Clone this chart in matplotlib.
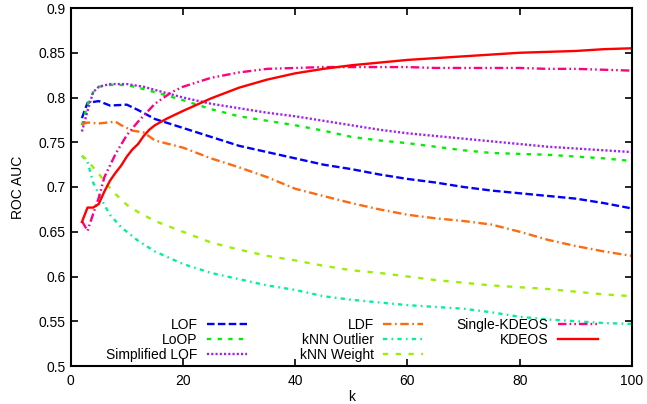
import matplotlib
matplotlib.use('Agg')
import matplotlib.pyplot as plt
from matplotlib.legend import Legend

plt.rcParams['font.family'] = ['Liberation Sans', 'DejaVu Sans']
plt.rcParams['font.size'] = 10

# values (k, ROC AUC)
k_lof = [2, 3, 5, 7, 10, 12, 15, 20, 25, 30, 35, 40, 45, 50, 55, 60, 65, 70, 75, 80, 85, 90, 95, 100]
auc_lof = [0.777, 0.794, 0.796, 0.791, 0.792, 0.786, 0.776, 0.766, 0.756, 0.746, 0.739, 0.732, 0.725,
           0.720, 0.714, 0.709, 0.705, 0.700, 0.696, 0.693, 0.690, 0.687, 0.682, 0.676]

k_loop = [2, 3, 4, 5, 7, 10, 12, 15, 20, 25, 30, 35, 40, 45, 50, 55, 60, 65, 70, 75, 80, 85, 90, 95, 100]
auc_loop = [0.769, 0.792, 0.806, 0.812, 0.814, 0.814, 0.811, 0.806, 0.797, 0.787, 0.779, 0.774, 0.769,
            0.763, 0.756, 0.752, 0.749, 0.745, 0.741, 0.738, 0.737, 0.736, 0.734, 0.732, 0.729]

k_slof = [2, 3, 4, 5, 7, 10, 13, 17, 20, 25, 30, 35, 40, 45, 50, 55, 60, 65, 70, 75, 80, 85, 90, 95, 100]
auc_slof = [0.762, 0.785, 0.806, 0.812, 0.815, 0.815, 0.812, 0.805, 0.800, 0.793, 0.788, 0.783, 0.779,
            0.774, 0.769, 0.764, 0.760, 0.757, 0.754, 0.751, 0.748, 0.745, 0.743, 0.741, 0.739]

k_ldf = [2, 3, 5, 8, 9, 11, 13, 15, 20, 25, 30, 35, 40, 45, 50, 55, 60, 65, 70, 75, 80, 85, 90, 95, 100]
auc_ldf = [0.770, 0.772, 0.771, 0.773, 0.769, 0.763, 0.761, 0.752, 0.744, 0.732, 0.722, 0.711, 0.698,
           0.690, 0.682, 0.675, 0.669, 0.665, 0.662, 0.658, 0.650, 0.641, 0.634, 0.628, 0.623]

k_knno = [2, 3, 4, 5, 6, 7, 9, 12, 15, 20, 25, 30, 35, 40, 45, 50, 55, 60, 65, 70, 75, 80, 85, 90, 95, 100]
auc_knno = [0.735, 0.728, 0.705, 0.692, 0.680, 0.669, 0.655, 0.640, 0.628, 0.614, 0.604, 0.597, 0.590,
            0.585, 0.578, 0.574, 0.571, 0.568, 0.566, 0.564, 0.560, 0.555, 0.552, 0.550, 0.548, 0.547]

k_knnw = [2, 3, 4, 5, 6, 8, 10, 12, 15, 20, 25, 30, 35, 40, 45, 50, 55, 60, 65, 70, 75, 80, 85, 90, 95, 100]
auc_knnw = [0.735, 0.730, 0.722, 0.715, 0.706, 0.692, 0.680, 0.672, 0.662, 0.650, 0.638, 0.630, 0.623,
            0.618, 0.612, 0.607, 0.604, 0.600, 0.596, 0.593, 0.590, 0.588, 0.586, 0.583, 0.580, 0.578]

k_skde = [2, 3, 4, 5, 6, 8, 10, 12, 15, 18, 20, 25, 30, 35, 40, 45, 50, 55, 60, 65, 70, 75, 80, 85, 90, 95, 100]
auc_skde = [0.662, 0.651, 0.670, 0.688, 0.711, 0.737, 0.758, 0.773, 0.793, 0.806, 0.812, 0.822, 0.828,
            0.832, 0.833, 0.834, 0.834, 0.834, 0.834, 0.833, 0.833, 0.833, 0.833, 0.832, 0.832, 0.831, 0.830]

k_kde = [2, 3, 4, 5, 6, 7, 8, 9, 10, 11, 12, 13, 14, 15, 17, 20, 25, 30, 35, 40, 45, 50, 55, 60, 65,
         70, 75, 80, 85, 90, 95, 100]
auc_kde = [0.661, 0.677, 0.677, 0.681, 0.695, 0.707, 0.716, 0.724, 0.734, 0.742, 0.748, 0.757, 0.764,
           0.769, 0.776, 0.785, 0.799, 0.811, 0.820, 0.827, 0.832, 0.836, 0.839, 0.842, 0.844, 0.846,
           0.848, 0.850, 0.851, 0.852, 0.854, 0.855]

fig = plt.figure(figsize=(6.47, 4.04), dpi=100)
ax = fig.add_axes([70.7 / 647, 38 / 404, 561.3 / 647, 358 / 404])

lw = 1.7
l_lof, = ax.plot(k_lof, auc_lof, color='#0000ff', lw=lw, dashes=(3.2, 1.4), label='LOF')
l_loop, = ax.plot(k_loop, auc_loop, color='#00ee00', lw=lw, dashes=(1.8, 2.7), label='LoOP')
l_slof, = ax.plot(k_slof, auc_slof, color='#a020f0', lw=lw, dashes=(0.9, 0.9), label='Simplified LOF')
l_ldf, = ax.plot(k_ldf, auc_ldf, color='#ff6a10', lw=lw, dashes=(3.6, 1.5, 0.7, 1.5), label='LDF')
l_knno, = ax.plot(k_knno, auc_knno, color='#00f0a0', lw=lw, dashes=(1.8, 1.8, 0.7, 1.8),
                  label='kNN Outlier')
l_knnw, = ax.plot(k_knnw, auc_knnw, color='#99f000', lw=lw, dashes=(2.2, 3.2), label='kNN Weight')
l_skde, = ax.plot(k_skde, auc_skde, color='#ff0080', lw=lw, dashes=(3.6, 1.3, 0.7, 1.3, 0.7, 1.3),
                  label='Single-KDEOS')
l_kde, = ax.plot(k_kde, auc_kde, color='#ff0000', lw=lw, label='KDEOS')

ax.set_xlim(0, 100)
ax.set_ylim(0.5, 0.9)
ax.set_xticks([0, 20, 40, 60, 80, 100])
ax.set_yticks([0.5, 0.55, 0.6, 0.65, 0.7, 0.75, 0.8, 0.85, 0.9])
ax.set_yticklabels(['0.5', '0.55', '0.6', '0.65', '0.7', '0.75', '0.8', '0.85', '0.9'])
ax.tick_params(direction='in', top=True, right=True, length=5, width=1.2, labelsize=10)
ax.tick_params(axis='x', pad=6)
for s in ax.spines.values():
    s.set_linewidth(1.5)
ax.set_xlabel('k', labelpad=1)
ax.set_ylabel('ROC AUC', labelpad=10)

leg_kw = dict(frameon=False, markerfirst=False, borderpad=0, borderaxespad=0,
              handlelength=2.9, handletextpad=0.65, labelspacing=0.08, fontsize=10)
top = (366 - 318) / 358
cols = [([l_lof, l_loop, l_slof], (247 - 70.7) / 561.3),
        ([l_ldf, l_knno, l_knnw], (423 - 70.7) / 561.3),
        ([l_skde, l_kde], (598 - 70.7) / 561.3)]
for handles, xr in cols:
    leg = Legend(ax, handles, [h.get_label() for h in handles], loc='upper right',
                 bbox_to_anchor=(xr, top), **leg_kw)
    ax.add_artist(leg)

fig.savefig('out.png', dpi=100)
